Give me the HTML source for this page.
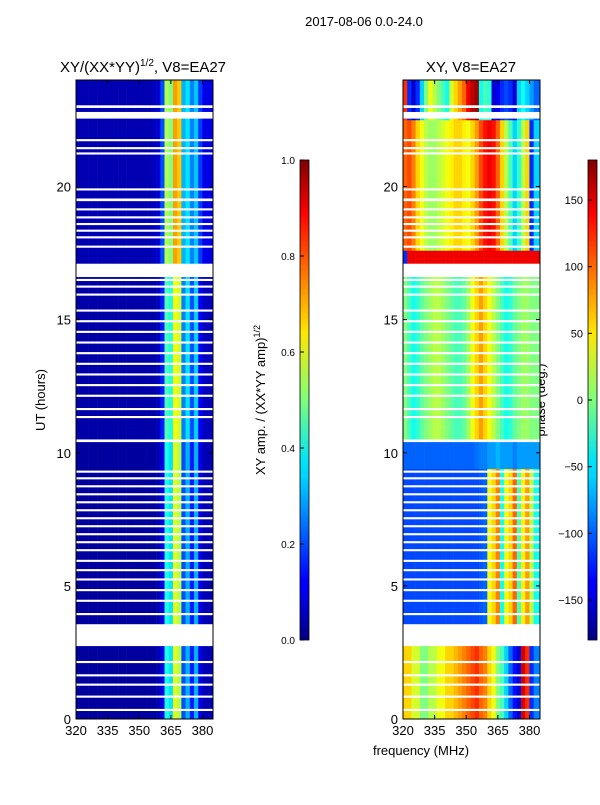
<!DOCTYPE html>
<html><head><meta charset="utf-8"><style>
body{margin:0;background:#fff;}
svg text{font-family:"Liberation Sans",sans-serif;fill:#000;}
</style></head><body>
<svg id="fig" width="600" height="800" xmlns="http://www.w3.org/2000/svg">
<defs>
<linearGradient id="jet" x1="0" y1="1" x2="0" y2="0">
<stop offset="0" stop-color="#00007f"/><stop offset="0.11" stop-color="#0000ff"/><stop offset="0.125" stop-color="#0000ff"/>
<stop offset="0.34" stop-color="#00d4ff"/><stop offset="0.375" stop-color="#00e5f7"/><stop offset="0.5" stop-color="#7dff7a"/>
<stop offset="0.64" stop-color="#ffe600"/><stop offset="0.66" stop-color="#ffd400"/><stop offset="0.89" stop-color="#ff0000"/><stop offset="1" stop-color="#7f0000"/>
</linearGradient>
</defs>
<text x="364" y="26" font-size="13" text-anchor="middle">2017-08-06 0.0-24.0</text>
<text x="143" y="72" font-size="15" text-anchor="middle">XY/(XX*YY)<tspan font-size="10" dy="-6">1/2</tspan><tspan dy="6">, V8=EA27</tspan></text>
<text x="471" y="72" font-size="15" text-anchor="middle">XY, V8=EA27</text>
<text transform="translate(45,400) rotate(-90)" font-size="13" text-anchor="middle">UT (hours)</text>
<text transform="translate(265,400) rotate(-90)" font-size="13" text-anchor="middle">XY amp. / (XX*YY amp)<tspan font-size="9" dy="-5">1/2</tspan></text>
<text transform="translate(545,400) rotate(-90)" font-size="13" text-anchor="middle">phase (deg.)</text>
<text x="421" y="755" font-size="13" text-anchor="middle">frequency (MHz)</text>
<g id="left"></g>
<g id="right"></g>
<rect x="300" y="160" width="9" height="480" fill="url(#jet)" stroke="#000" stroke-width="0.8"/>
<rect x="588" y="160" width="9" height="480" fill="url(#jet)" stroke="#000" stroke-width="0.8"/>
<g id="cbticks"></g>
</svg>
<script>
const freqEdges = [320,322,324,326,328,330,332,334,336,338,340,342,344,346,348,350,352,354,356,358,360,362,364,366,368,370,372,374,376,378,380,382,385];
const segStart = [0, 3.56, 9.4, 10.5, 17.1, 17.6, 22.5];
const segEnd   = [2.74, 9.4, 10.5, 16.6, 17.6, 22.5, 24];
const ampLow  = [.03,.03,.03,.03,.03,.03,.03,.03,.03,.03,.03,.03,.03,.03,.03,.03,.03,.03,.03,.05,.1,.4,.35,.6,.55,.2,.3,.15,.3,.1,.05,.05];
const ampMid  = [.04,.04,.04,.04,.04,.04,.04,.04,.04,.04,.04,.04,.04,.04,.04,.04,.04,.04,.04,.06,.15,.45,.4,.62,.58,.25,.35,.2,.33,.12,.06,.06];
const ampHigh = [.05,.05,.05,.05,.05,.05,.05,.05,.05,.05,.05,.05,.05,.05,.05,.05,.05,.05,.06,.08,.2,.55,.5,.72,.68,.3,.35,.25,.32,.18,.1,.1];
const segAmp = [ampLow, ampLow, ampLow, ampMid, ampHigh, ampHigh, ampHigh];
const phA = [60,60,30,30,0,0,20,20,40,40,60,60,70,80,90,100,110,120,100,90,60,40,0,-20,-60,-100,-130,-150,150,120,-120,-90];
const phB = [-110,-110,-110,-110,-110,-110,-110,-110,-110,-110,-110,-110,-110,-110,-110,-110,-110,-110,-105,-100,40,60,90,-40,40,60,100,-20,50,80,20,-40];
const phC = [-100,-100,-100,-100,-100,-100,-100,-100,-100,-100,-100,-100,-100,-100,-100,-100,-100,-95,-90,-90,-80,-80,-70,-80,-80,-80,-90,-80,-80,-80,-80,-80];
const phD = [0,-20,-40,-30,-10,0,10,20,20,10,0,-10,-20,-20,-10,10,40,60,80,60,40,20,0,-20,-40,-30,-10,0,10,10,0,0];
const phE = [-120,140,140,140,140,140,140,140,140,140,140,140,140,140,140,140,140,140,140,140,140,140,140,140,140,140,140,140,140,140,140,140];
const phF = [100,110,90,60,40,20,10,10,20,30,40,50,60,60,50,40,60,80,110,130,140,130,100,60,20,-20,-60,-30,20,60,-120,-60];
const phG = [120,-120,-150,-120,-60,0,40,20,0,-20,-40,30,60,80,100,140,160,170,-40,-20,-30,-150,-140,-120,-110,-120,-150,-60,-40,-60,-80,-100];
const segPhase = [phA, phB, phC, phD, phE, phF, phG];
const flagStart = [2.74,16.6,22.55,22.95,0.3,0.8,1.25,1.6,2.1,3.9,4.4,4.8,5.2,5.55,5.9,6.3,6.6,6.9,7.2,7.5,7.8,8.1,8.4,8.7,9.0,9.25,10.4,11.3,11.6,12.1,12.5,12.9,13.3,13.7,14.1,14.5,14.9,15.3,15.9,16.2,16.45,17.7,18.05,18.3,18.55,18.8,19.1,19.45,19.85,21.2,21.4,21.7];
const flagEnd   = [3.56,17.1,22.8,23.05,0.38,0.88,1.33,1.68,2.18,3.98,4.48,4.88,5.28,5.63,5.98,6.38,6.68,6.98,7.28,7.58,7.88,8.18,8.48,8.78,9.08,9.33,10.5,11.38,11.68,12.18,12.58,12.98,13.38,13.78,14.18,14.58,14.98,15.38,15.98,16.28,16.53,17.78,18.13,18.38,18.63,18.88,19.18,19.55,19.93,21.28,21.48,21.78];
const yTicks = [0,5,10,15,20];
const xTicks = [320,335,350,365,380];
const ampTicks = [0.0,0.2,0.4,0.6,0.8,1.0];
const phaseTicks = [-150,-100,-50,0,50,100,150];

const NS='http://www.w3.org/2000/svg';
function jet(t){t=Math.max(0,Math.min(1,t));
 const r=Math.max(0,Math.min(1,Math.min(4*t-1.5,-4*t+4.5)));
 const g=Math.max(0,Math.min(1,Math.min(4*t-0.5,-4*t+3.5)));
 const b=Math.max(0,Math.min(1,Math.min(4*t+0.5,-4*t+2.5)));
 return `rgb(${Math.round(r*255)},${Math.round(g*255)},${Math.round(b*255)})`;}
const yTop=80,yBot=719;
const yS=h=>yBot-(h/24)*(yBot-yTop);
function mk(tag,attrs,parent){const e=document.createElementNS(NS,tag);for(const k in attrs)e.setAttribute(k,attrs[k]);parent.appendChild(e);return e;}
function panel(gid,x0,x1,norm,profiles,label){
 const g=document.getElementById(gid);
 const xS=f=>x0+(f-320)/(385-320)*(x1-x0);
 for(let s=0;s<segStart.length;s++){
  for(let j=0;j<freqEdges.length-1;j++){
   const xa=xS(freqEdges[j]),xb=xS(freqEdges[j+1]);
   const c=mk('rect',{x:xa,y:yS(segEnd[s]),width:xb-xa+0.3,height:yS(segStart[s])-yS(segEnd[s])+0.3,fill:jet(norm(profiles[s][j]))},g);
   
   
  }
 }
 for(let k=0;k<flagStart.length;k++){
  const f=mk('rect',{x:x0,y:yS(flagEnd[k]),width:x1-x0,height:yS(flagStart[k])-yS(flagEnd[k]),fill:'#fff'},g);
  
  
 }
 const fr=mk('rect',{x:x0,y:yTop,width:x1-x0,height:yBot-yTop,fill:'none',stroke:'#000','stroke-width':1},g);
 
 
 yTicks.forEach(v=>{const y=yS(v);
  mk('line',{x1:x0,x2:x0+4,y1:y,y2:y,stroke:'#000'},g);mk('line',{x1:x1,x2:x1-4,y1:y,y2:y,stroke:'#000'},g);
  const t=mk('text',{x:x0-5,y:y+5,'font-size':13,'text-anchor':'end'},g);t.textContent=v;
  
  });
 xTicks.forEach(v=>{const x=xS(v);
  mk('line',{x1:x,x2:x,y1:yBot,y2:yBot-4,stroke:'#000'},g);mk('line',{x1:x,x2:x,y1:yTop,y2:yTop+4,stroke:'#000'},g);
  const t=mk('text',{x:x,y:yBot+16,'font-size':13,'text-anchor':'middle'},g);t.textContent=v;
  
  });
}
panel('left',76,213,v=>v,segAmp,'amplitude');
panel('right',403,540,v=>(v+180)/360,segPhase,'phase');
const cb=document.getElementById('cbticks');
ampTicks.forEach(v=>{const y=640-v*480;mk('line',{x1:300,x2:304,y1:y,y2:y,stroke:'#000'},cb);
 const t=mk('text',{x:295,y:y+4,'font-size':10,'text-anchor':'end'},cb);t.textContent=v.toFixed(1);
 
 });
phaseTicks.forEach(v=>{const y=640-(v+180)/360*480;mk('line',{x1:588,x2:592,y1:y,y2:y,stroke:'#000'},cb);
 const t=mk('text',{x:583,y:y+4,'font-size':11,'text-anchor':'end'},cb);t.textContent=v<0?'\u2212'+(-v):v;
 
 });
</script>
</body></html>
